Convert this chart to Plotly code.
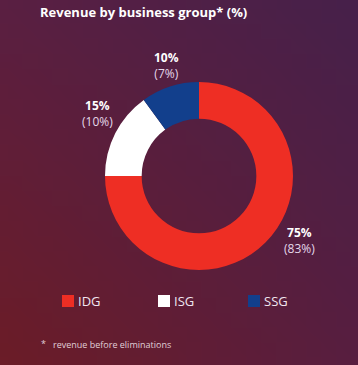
import base64, struct, zlib
import numpy as np
import plotly.graph_objects as go

groups = ["IDG", "ISG", "SSG"]
share_now = [75, 15, 10]
share_prev = [83, 10, 7]
colors = ["#ee2e24", "#ffffff", "#123f8c"]

W, H = 358, 365

def png_gradient(w, h):
    tl = np.array([0x5a, 0x1f, 0x42]); tr = np.array([0x47, 0x20, 0x4a])
    bl = np.array([0x6b, 0x1c, 0x28]); br = np.array([0x58, 0x1e, 0x40])
    rows = b""
    for j in range(h):
        v = j / (h - 1)
        row = b"\x00"
        for i in range(w):
            u = i / (w - 1)
            c = (1 - v) * ((1 - u) * tl + u * tr) + v * ((1 - u) * bl + u * br)
            row += bytes(int(round(x)) for x in c)
        rows += row
    def chunk(t, d):
        return struct.pack(">I", len(d)) + t + d + struct.pack(">I", zlib.crc32(t + d) & 0xffffffff)
    png = b"\x89PNG\r\n\x1a\n" + chunk(b"IHDR", struct.pack(">IIBBBBB", w, h, 8, 2, 0, 0, 0)) \
        + chunk(b"IDAT", zlib.compress(rows)) + chunk(b"IEND", b"")
    return "data:image/png;base64," + base64.b64encode(png).decode()

cx, cy, r = 199, 176, 94
fig = go.Figure(go.Pie(
    labels=groups, values=share_now, marker=dict(colors=colors, line=dict(width=0)),
    hole=0.61, sort=False, direction="clockwise", rotation=0,
    textinfo="none", hoverinfo="label+value", showlegend=False,
    domain=dict(x=[(cx - r) / W, (cx + r) / W], y=[(H - cy - r) / H, (H - cy + r) / H]),
))

font = "Open Sans"
label_pos = [(299, 240.5), (97, 113.5), (166, 65.5)]
anns = []
for (x, y), a, b in zip(label_pos, share_now, share_prev):
    anns.append(dict(x=x / W, y=1 - y / H, xref="paper", yref="paper", showarrow=False,
                     xanchor="center", yanchor="middle", align="center",
                     text=f"<b>{a}%</b><br><span style='color:#e4d8ea'>({b}%)</span>",
                     font=dict(family=font, size=12, color="#ffffff")))

shapes = []
leg_x = [62, 158, 248]
for x0, g, c in zip(leg_x, groups, colors):
    shapes.append(dict(type="rect", xref="paper", yref="paper", x0=x0 / W, x1=(x0 + 12) / W,
                       y0=1 - 307 / H, y1=1 - 295 / H, fillcolor=c, line=dict(width=0)))
    anns.append(dict(x=(x0 + 14) / W, y=1 - 301 / H, xref="paper", yref="paper", showarrow=False,
                     xanchor="left", yanchor="middle", text=g,
                     font=dict(family=font, size=13, color="#f0e6f0")))

anns.append(dict(x=38 / W, y=1 - 12 / H, xref="paper", yref="paper", showarrow=False,
                 xanchor="left", yanchor="middle",
                 text="<b>Revenue by business group* (%)</b>",
                 font=dict(family=font, size=13, color="#ffffff")))
anns.append(dict(x=39 / W, y=1 - 343 / H, xref="paper", yref="paper", showarrow=False,
                 xanchor="left", yanchor="middle",
                 text="*", font=dict(family=font, size=9, color="#e0cfd8")))
anns.append(dict(x=51 / W, y=1 - 344 / H, xref="paper", yref="paper", showarrow=False,
                 xanchor="left", yanchor="middle",
                 text="revenue before eliminations", font=dict(family=font, size=9, color="#e0cfd8")))

fig.update_layout(
    width=W, height=H, margin=dict(l=0, r=0, t=0, b=0),
    paper_bgcolor="#5a1f40", plot_bgcolor="rgba(0,0,0,0)",
    annotations=anns, shapes=shapes,
    images=[dict(source=png_gradient(24, 24), xref="paper", yref="paper", x=0, y=1,
                 sizex=1, sizey=1, sizing="stretch", layer="below", xanchor="left", yanchor="top")],
)
fig.write_html("out.html", config={"displayModeBar": False},
               post_script="document.body.style.margin='0';document.body.style.overflow='hidden';")
